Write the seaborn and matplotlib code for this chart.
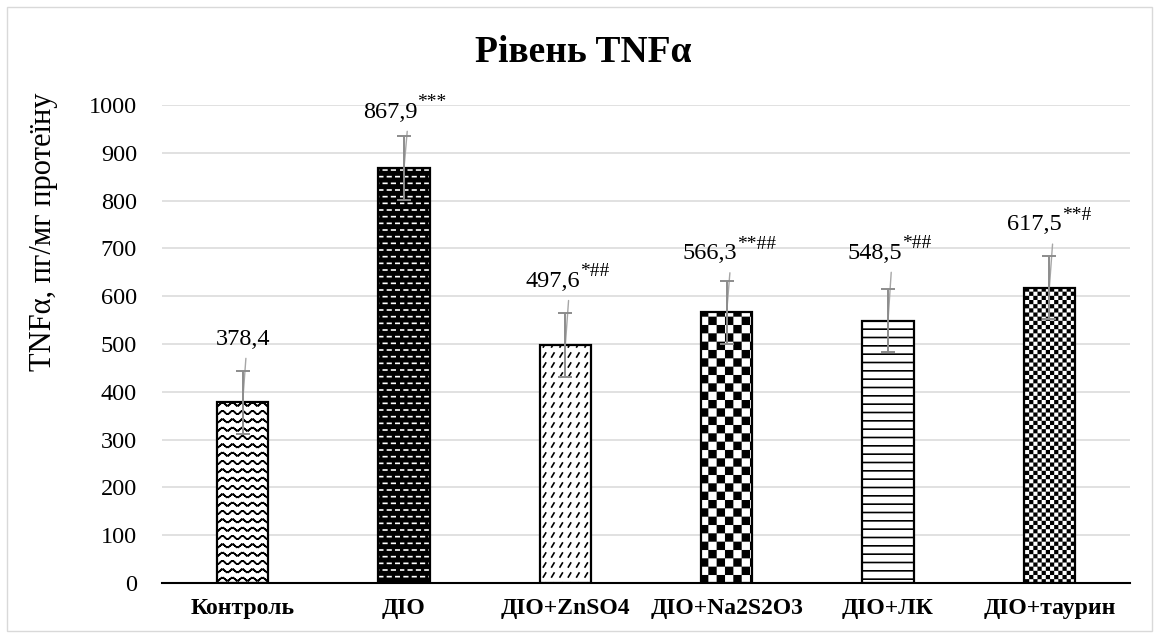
import warnings

import numpy as np
import pandas as pd
import matplotlib
matplotlib.use("Agg")
import matplotlib.pyplot as plt
from matplotlib import hatch as mhatch
from matplotlib.path import Path
from matplotlib.patches import Rectangle
import seaborn as sns

warnings.filterwarnings("ignore")

# ---- data -------------------------------------------------------------
categories = ["Контроль", "ДІО", "ДІО+ZnSO4", "ДІО+Na2S2O3", "ДІО+ЛК", "ДІО+таурин"]
values = [378.4, 867.9, 497.6, 566.3, 548.5, 617.5]
errors = [66, 67, 67, 66, 66, 66]
significance = ["", "***", "*##", "**##", "*##", "**#"]
y_ticks = [0, 100, 200, 300, 400, 500, 600, 700, 800, 900, 1000]

title = "Рівень TNFα"
y_title = "TNFα, пг/мг протеїну"

# label placement (axis units)
label_y = [510, 985, 631, 689, 690, 749]
label_dx = [0.0, -0.086, -0.078, -0.105, -0.08, -0.09]


# ---- custom fill patterns ---------------------------------------------
def _segments(segs):
    segs = np.asarray(segs, float)
    verts = np.empty((2 * len(segs), 2))
    verts[0::2] = segs[:, :2]
    verts[1::2] = segs[:, 2:]
    codes = np.empty(2 * len(segs), dtype=Path.code_type)
    codes[0::2] = Path.MOVETO
    codes[1::2] = Path.LINETO
    return verts, codes


class _PatternHatch(mhatch.HatchPatternBase):
    symbol = "?"

    def __init__(self, hatch, density):
        if hatch and self.symbol in hatch:
            verts, codes = self.build()
        else:
            verts, codes = np.empty((0, 2)), np.empty(0, dtype=Path.code_type)
        self._verts = verts
        self._codes = codes
        self.num_vertices = len(verts)

    def set_vertices_and_codes(self, vertices, codes):
        vertices[:] = self._verts
        codes[:] = self._codes


class WaveHatch(_PatternHatch):
    symbol = "~"

    def build(self):
        rows, periods, steps, amp = 12, 10, 6, 0.016
        segs = []
        for r in range(rows):
            y0 = (r + 0.5) / rows
            xs = np.linspace(0, 1, periods * steps + 1)
            ys = y0 + amp * np.sin(2 * np.pi * periods * xs)
            for k in range(len(xs) - 1):
                segs.append((xs[k], ys[k], xs[k + 1], ys[k + 1]))
        return _segments(segs)


class DashHatch(_PatternHatch):
    symbol = "d"

    def build(self):
        rows, per_row, frac = 15, 12, 0.42
        segs = []
        for r in range(rows):
            y = (r + 0.5) / rows
            off = 0.5 if r % 2 else 0.0
            for k in range(per_row):
                x0 = (k + off) / per_row
                x1 = x0 + frac / per_row
                if x1 <= 1:
                    segs.append((x0, y, x1, y))
                else:
                    segs.append((x0, y, 1.0, y))
                    segs.append((0.0, y, x1 - 1, y))
        return _segments(segs)


class DiagDashHatch(_PatternHatch):
    symbol = "z"

    def build(self):
        rows, per_row, dx, dy = 10, 12, 0.024, 0.04
        segs = []
        for r in range(rows):
            y = (r + 0.3) / rows
            for k in range(per_row):
                x = (k + 0.2) / per_row
                segs.append((x, y, x + dx, y + dy))
        return _segments(segs)


class _CheckerHatch(_PatternHatch):
    cells = 12

    def build(self):
        n = self.cells
        s = 1.0 / n
        shrink = 0.008
        verts, codes = [], []
        for i in range(n):
            for j in range(n):
                if (i + j) % 2:
                    continue
                x0, y0 = i * s + shrink, j * s + shrink
                x1, y1 = (i + 1) * s - shrink, (j + 1) * s - shrink
                verts += [(x0, y0), (x1, y0), (x1, y1), (x0, y1), (x0, y0)]
                codes += [Path.MOVETO, Path.LINETO, Path.LINETO, Path.LINETO,
                          Path.CLOSEPOLY]
        return np.array(verts, float), np.array(codes, dtype=Path.code_type)


class LargeChecker(_CheckerHatch):
    symbol = "c"
    cells = 12


class SmallChecker(_CheckerHatch):
    symbol = "k"
    cells = 24


mhatch._hatch_types.extend([WaveHatch, DashHatch, DiagDashHatch,
                            LargeChecker, SmallChecker])

# (hatch, hatch colour) for each group
bar_styles = [("~", "black"), ("d", "white"), ("z", "black"),
              ("c", "black"), ("--", "black"), ("k", "black")]
face_colors = ["white", "black", "white", "white", "white", "white"]

# ---- figure -----------------------------------------------------------
sns.set_theme(style="white")
plt.rcParams["font.family"] = ["Liberation Serif", "DejaVu Serif"]
plt.rcParams["hatch.linewidth"] = 1.2

W, H = 1159, 638
fig, ax = plt.subplots(figsize=(W / 100, H / 100), dpi=100)
fig.patch.set_facecolor("white")
fig.subplots_adjust(left=162 / W, right=1130 / W, bottom=55 / H, top=533 / H)

df = pd.DataFrame({"group": categories, "value": values})
sns.barplot(data=df, x="group", y="value", hue="group",
            palette=dict(zip(categories, face_colors)), saturation=1,
            width=0.32, errorbar=None, legend=False, ax=ax, zorder=2)

bars = list(ax.patches)
for p, (hatch, hcolor) in zip(bars, bar_styles):
    p.set_hatch(hatch)
    p.set_edgecolor(hcolor)
    p.set_linewidth(0)
    ax.add_patch(Rectangle((p.get_x(), p.get_y()), p.get_width(), p.get_height(),
                           fill=False, edgecolor="black", linewidth=1.6, zorder=3))

x = np.arange(len(values))
ax.errorbar(x, values, yerr=errors, fmt="none", ecolor="#8c8c8c",
            elinewidth=1.4, capsize=5, capthick=1.4, zorder=4)

# value labels with significance marks and leader lines
for i, (v, sig, ly, dx) in enumerate(zip(values, significance, label_y, label_dx)):
    num = ax.text(i + dx, ly, f"{v:.1f}".replace(".", ","), ha="center",
                  va="center", fontsize=17.5, color="black", zorder=6)
    if sig:
        ax.annotate(sig, xy=(1.0, 0.55), xycoords=num, ha="left", va="bottom",
                    fontsize=14, color="black", zorder=6)
    ax.plot([i + 0.02, i], [ly - 40, v], color="#a6a6a6", lw=1, zorder=2.5)

ax.set_ylim(0, 1000)
ax.set_xlim(-0.5, len(values) - 0.5)
ax.set_yticks(y_ticks)
ax.yaxis.grid(True, color="#d9d9d9", linewidth=1.1)
ax.xaxis.grid(False)
ax.set_axisbelow(True)
sns.despine(ax=ax, left=True)
ax.spines["bottom"].set_color("black")
ax.spines["bottom"].set_linewidth(1.5)
ax.spines["bottom"].set_zorder(5)

ax.set_xlabel("")
ax.set_ylabel("")
ax.tick_params(axis="y", length=0, pad=18, labelsize=17.5, labelcolor="black")
ax.tick_params(axis="x", length=0, pad=11, labelsize=17, labelcolor="black")
for t in ax.get_xticklabels():
    t.set_fontweight("bold")

fig.text(583 / W, 1 - 52 / H, title, ha="center", va="center",
         fontsize=27, fontweight="bold", color="black")
fig.text(44 / W, 1 - 232 / H, y_title, rotation=90, ha="center", va="center",
         fontsize=22, color="black")

fig.add_artist(Rectangle((7 / W, 7 / H), (W - 14) / W, (H - 14) / H,
                         transform=fig.transFigure, fill=False,
                         edgecolor="#d9d9d9", linewidth=1))

fig.savefig("out.png", dpi=100, facecolor="white")
